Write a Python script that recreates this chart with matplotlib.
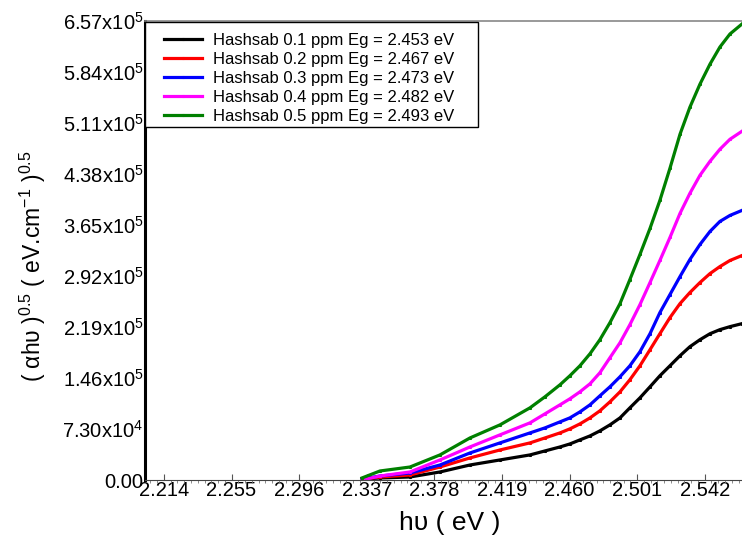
import matplotlib
matplotlib.use("Agg")
import matplotlib.pyplot as plt
from matplotlib.patches import Rectangle
from matplotlib.ticker import FixedLocator, AutoMinorLocator

plt.rcParams["font.family"] = ["Liberation Sans", "DejaVu Sans"]
plt.rcParams["mathtext.fontset"] = "custom"
plt.rcParams["mathtext.rm"] = "Liberation Sans"
plt.rcParams["mathtext.it"] = "Liberation Sans:italic"

# photon energy h(nu) in eV
energy = [2.3341, 2.3450, 2.3632, 2.3814, 2.3996, 2.4178, 2.4360, 2.4451,
          2.4542, 2.4602, 2.4663, 2.4724, 2.4784, 2.4845, 2.4906, 2.4966,
          2.5027, 2.5088, 2.5148, 2.5209, 2.5270, 2.5330, 2.5391, 2.5452,
          2.5512, 2.5573, 2.5646]

# (alpha h nu)^0.5, in thousands
hs01 = [1.4, 2.9, 4.3, 11.5, 21.5, 28.7, 35.9, 41.6, 47.3, 51.6, 57.4, 63.1, 70.3,
        78.9, 88.9, 103.3, 117.6, 133.4, 149.2, 163.5, 177.9, 190.8, 200.8, 209.4,
        215.2, 219.5, 223.8]
hs02 = [1.4, 4.3, 7.2, 18.6, 31.6, 43.0, 53.1, 60.2, 67.4, 73.2, 80.3, 88.9, 99.0,
        111.9, 126.2, 143.5, 163.5, 186.5, 209.4, 232.4, 252.5, 268.3, 282.6, 295.5,
        305.5, 314.2, 321.3]
hs03 = [1.4, 5.7, 10.0, 21.5, 38.7, 53.1, 67.4, 74.6, 83.2, 88.9, 97.5, 107.6, 120.5,
        133.4, 147.8, 163.5, 183.6, 209.4, 239.6, 265.4, 291.2, 315.6, 337.1, 355.8,
        370.1, 378.7, 385.9]
hs04 = [0.0, 5.7, 11.5, 28.7, 47.3, 64.6, 81.8, 94.7, 107.6, 116.2, 126.2, 137.7, 153.5,
        175.0, 196.5, 222.3, 251.0, 282.6, 314.2, 347.1, 381.6, 410.3, 436.1, 456.2,
        473.4, 487.7, 499.2]
hs05 = [2.9, 12.9, 18.6, 35.9, 60.2, 78.9, 103.3, 119.1, 136.3, 149.2, 163.5, 180.7, 200.8,
        225.2, 252.5, 286.9, 322.8, 360.1, 400.2, 446.2, 494.9, 533.6, 566.6, 595.3,
        619.7, 638.4, 652.7]

series = [hs01, hs02, hs03, hs04, hs05]
labels = ["Hashsab 0.1 ppm Eg = 2.453 eV", "Hashsab 0.2 ppm Eg = 2.467 eV",
          "Hashsab 0.3 ppm Eg = 2.473 eV", "Hashsab 0.4 ppm Eg = 2.482 eV",
          "Hashsab 0.5 ppm Eg = 2.493 eV"]
colors = ["black", "red", "blue", "magenta", "green"]

xticks = [2.214, 2.255, 2.296, 2.337, 2.378, 2.419, 2.460, 2.501, 2.542]
yticks = [0, 7.30e4, 1.46e5, 2.19e5, 2.92e5, 3.65e5, 4.38e5, 5.11e5, 5.84e5, 6.57e5]
ytick_labels = ["0.00", r"7.30x10$^4$", r"1.46x10$^5$", r"2.19x10$^5$", r"2.92x10$^5$",
                r"3.65x10$^5$", r"4.38x10$^5$", r"5.11x10$^5$", r"5.84x10$^5$", r"6.57x10$^5$"]

fig = plt.figure(figsize=(7.42, 5.38), dpi=100)
ax = fig.add_axes([0.1954, 0.1078, 0.8046, 0.8532])

for y, lab, c in zip(series, labels, colors):
    ax.plot(energy, [v * 1000 for v in y], color=c, lw=2.3,
            marker="s", markersize=1.2, label=lab)

ax.set_xlim(2.2025, 2.5646)
ax.set_ylim(0, 6.57e5)

ax.xaxis.set_major_locator(FixedLocator(xticks))
ax.set_xticklabels(["%.3f" % t for t in xticks])
ax.xaxis.set_minor_locator(AutoMinorLocator(10))
ax.yaxis.set_major_locator(FixedLocator(yticks))
ax.set_yticklabels(ytick_labels)

ax.tick_params(axis="both", labelsize=14.5, direction="in")
ax.tick_params(axis="x", which="major", length=4, pad=1, color="#555555")
ax.tick_params(axis="x", which="minor", length=2, color="#777777")
ax.tick_params(axis="y", length=0, pad=1)

ax.spines["right"].set_visible(False)
ax.spines["top"].set_color("#888888")
ax.spines["top"].set_linewidth(1.2)
ax.spines["left"].set_linewidth(2.2)
ax.spines["bottom"].set_color("#444444")

ax.set_xlabel("h\u03c5 ( eV )", fontsize=19)
ax.xaxis.set_label_coords(0.51, -0.068)
ax.set_ylabel("( \u03b1h\u03c5 )$^{0.5}$ ( eV.cm$^{-1}$ )$^{0.5}$", fontsize=16.5)
ax.yaxis.set_label_coords(-0.163, 0.466)

# legend box drawn separately so padding matches the original
ax.add_patch(Rectangle((0.0, 0.769), 0.558, 0.229, transform=ax.transAxes,
                       facecolor="white", edgecolor="black", lw=1, zorder=4.5,
                       clip_on=False))
leg = ax.legend(loc="upper left", bbox_to_anchor=(0.032, 0.974), fontsize=12,
                handlelength=2.3, frameon=False, borderaxespad=0, borderpad=0,
                labelspacing=0.24, handletextpad=0.65)
leg.set_zorder(5)

plt.savefig("out.png", dpi=100)
